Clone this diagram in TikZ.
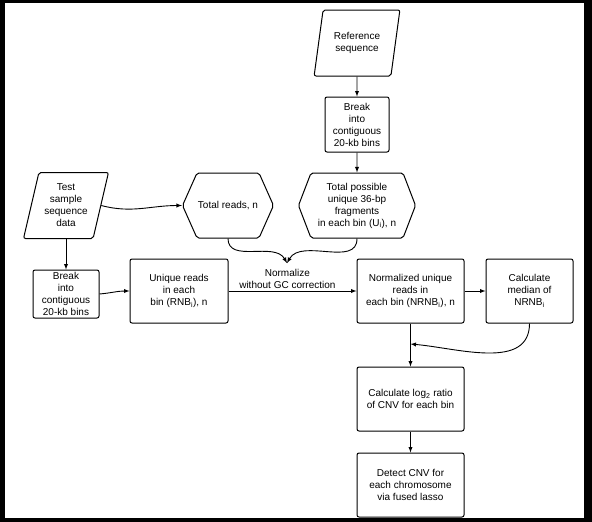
\documentclass[tikz,border=0pt]{standalone}
\usepackage{fontspec}
\setmainfont{Liberation Sans}
\usetikzlibrary{positioning}
\usetikzlibrary{shapes.geometric}
\usetikzlibrary{shapes.symbols}
\usetikzlibrary{arrows}

\begin{document}
\begin{tikzpicture}[x=1pt, y=-1pt]
\pgfmathsetmacro{\XR}{357}
\pgfmathsetmacro{\YM}{291}

\tikzset{
  box/.style={draw, rectangle, rounded corners=2pt, line width=1pt, align=center,
  inner sep=1pt, minimum width=#1, minimum height=64},
  data/.style={draw, trapezium, trapezium left angle=74, trapezium right angle=106,
  trapezium stretches=true, rounded corners=2pt, line width=1pt, align=center,
  inner sep=0pt, minimum width=#1, minimum height=66},
  hexa/.style={draw, signal, signal to=east and west, signal pointer angle=#1,
  rounded corners=2pt, line width=1pt, align=center, inner sep=1pt, minimum height=65},
  flow/.style={->, >=latex, line width=0.9pt},
}

% frame
\fill[black] (0,0) rectangle (592,522);
\fill[white] (5,3) rectangle (584,518);

\node[data=86] (ref) at (\XR, 43) {Reference\\sequence};
\node[box=64, minimum height=55] (brk1) at (\XR, 124.5) {Break\\into\\contiguous\\20-kb bins};
\node[hexa=138, minimum width=117] (totpos) at (\XR, 205.5) {Total possible\\unique 36-bp\\fragments\\in each bin (U\textsubscript{i}), n};

\node[data=85] (test) at (66, 205.5) {Test\\sample\\sequence\\data};
\node[hexa=132, minimum width=84] (totreads) at (228, 205.5) {Total reads, n};
\node[box=66, minimum height=48] (brk2) at (66, 294) {Break\\into\\contiguous\\20-kb bins};

\node[box=98] (uniq) at (179, \YM) {Unique reads\\in each\\bin (RNB\textsubscript{i}), n};
\node[box=107] (norm) at (410.5, \YM) {Normalized unique\\reads in\\each bin (NRNB\textsubscript{i}), n};
\node[box=87] (median) at (529.5, \YM) {Calculate\\median of\\NRNB\textsubscript{i}};
\node[box=107] (calc) at (410.5, 399) {Calculate log\textsubscript{2} ratio\\of CNV for each bin};
\node[box=107] (detect) at (410.5, 485) {Detect CNV for\\each chromosome\\via fused lasso};

\coordinate (mrg) at (287, 263);
\coordinate (jn) at (410.5, 344);

\draw[flow] (ref) -- (brk1);
\draw[flow] (brk1) -- (totpos);
\draw[flow] (test.east) to [out=-15, in=180] (totreads.west);
\draw[flow] (test) -- (brk2);
\draw[flow] (brk2.east) to [out=5, in=180] (uniq.west);
\draw[flow] (totreads.south) to [out=-90, in=120] (mrg);
\draw[flow] (totpos.south) to [out=-90, in=60] (mrg);
\draw[flow] (uniq) -- node[above, pos=0.46, align=center, inner sep=2pt] {Normalize\\without GC correction} (norm);
\draw[flow] (norm) -- (median);
\draw[flow] (norm) -- (calc);
\draw[flow] (median.south) to [out=-90, in=-5] (jn);
\draw[flow] (calc) -- (detect);
\end{tikzpicture}
\end{document}
